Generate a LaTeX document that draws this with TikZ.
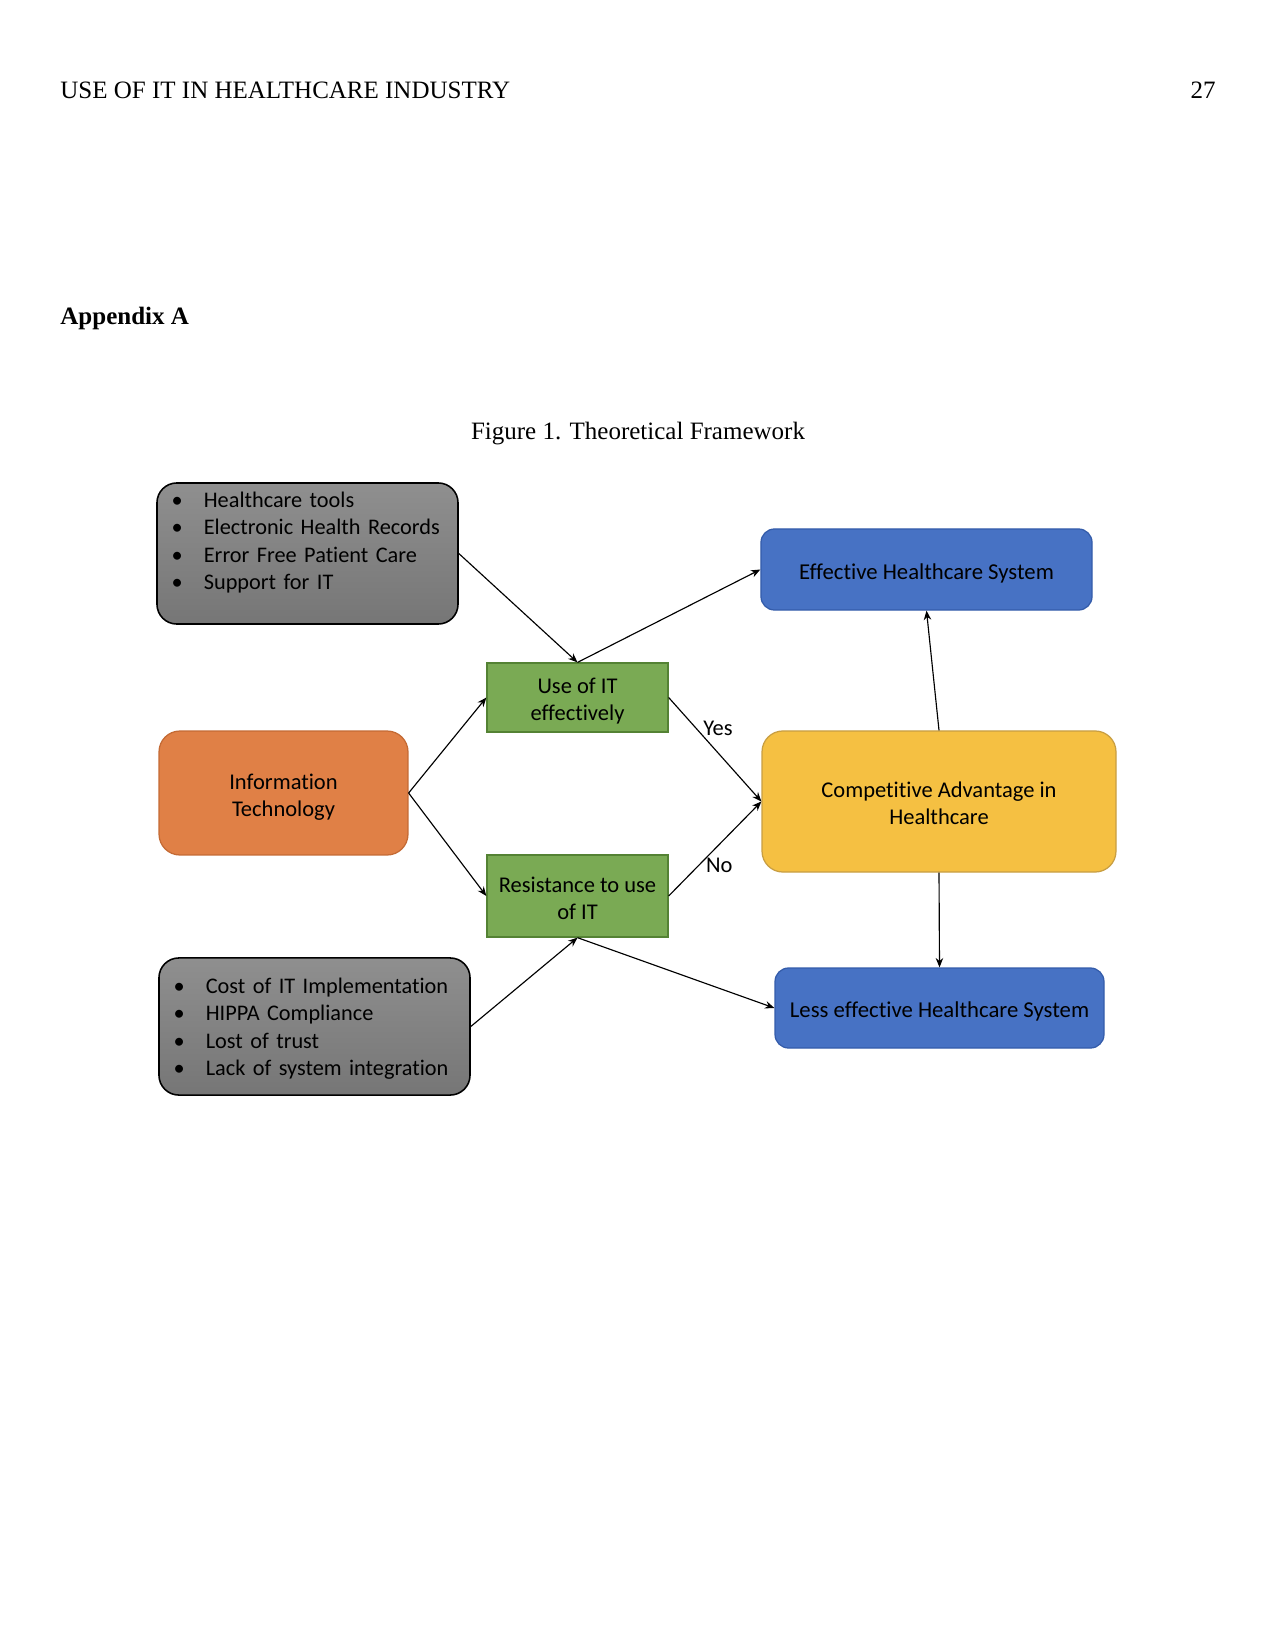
\documentclass[tikz,border=0pt]{standalone}
\usepackage{fontspec}
\setmainfont{Liberation Serif}
\newfontfamily\boxfont[Ligatures=NoCommon]{Carlito}
\usetikzlibrary{arrows.meta, positioning, calc}
\definecolor{graytop}{RGB}{143,143,143}
\definecolor{graymid}{RGB}{166,166,166}
\definecolor{graybot}{RGB}{118,118,118}
\definecolor{itorange}{RGB}{224,128,70}
\definecolor{itorangedk}{RGB}{196,106,52}
\definecolor{usegreen}{RGB}{122,170,84}
\definecolor{usegreendk}{RGB}{84,130,52}
\definecolor{sysblue}{RGB}{71,114,196}
\definecolor{sysbluedk}{RGB}{52,92,170}
\definecolor{advyellow}{RGB}{245,192,66}
\definecolor{advyellowdk}{RGB}{200,158,66}
\tikzset{
  listbox/.style={rectangle, draw=black, line width=0.75pt, rounded corners=9.5pt,
    top color=graytop, middle color=graymid, bottom color=graybot,
    align=left, inner xsep=7pt, inner ysep=0pt, anchor=center,
    font=\boxfont\fontsize{10.7}{13.2}\selectfont},
  orangebox/.style={rectangle, draw=itorangedk, fill=itorange, line width=0.6pt,
    rounded corners=10pt, align=center,
    font=\boxfont\fontsize{10.8}{13}\selectfont},
  greenbox/.style={rectangle, draw=usegreendk, fill=usegreen, line width=0.6pt,
    align=center, font=\boxfont\fontsize{10.8}{13}\selectfont},
  bluebox/.style={rectangle, draw=sysbluedk, fill=sysblue, line width=0.6pt,
    rounded corners=6.5pt, align=center,
    font=\boxfont\fontsize{10.9}{13}\selectfont},
  yellowbox/.style={rectangle, draw=advyellowdk, fill=advyellow, line width=0.6pt,
    rounded corners=10pt, align=center,
    font=\boxfont\fontsize{10.8}{13}\selectfont},
  arrow/.style={-{Stealth[length=4.5pt, width=3.6pt]}, line width=0.55pt, color=black},
  edgelabel/.style={font=\boxfont\fontsize{10.8}{13}\selectfont, inner sep=2pt}
}
\newcommand{\bulletitem}[1]{\makebox[15.5pt][l]{\textbullet}#1}
% text set a little low in its box, as the original does
\newcommand{\lowered}[2][2pt]{\raisebox{-#1}[\height][\depth]{\begin{tabular}{@{}c@{}}#2\end{tabular}}}
\newcommand{\loweredlist}[2][1pt]{\raisebox{-#1}[\height][\depth]{\begin{tabular}{@{}l@{}}#2\end{tabular}}}

\begin{document}
\begin{tikzpicture}[x=0.48pt, y=-0.48pt, >=Stealth]
  % page frame (1275 x 1650 px)
  \useasboundingbox (0,0) rectangle (1275,1650);

  % Running head, heading and caption
  \node[anchor=base west, inner sep=0pt, font=\fontsize{12}{14}\selectfont] (runhead) at (60,98.5) {USE OF IT IN HEALTHCARE INDUSTRY};
  \node[anchor=base east, inner sep=0pt, font=\fontsize{12}{14}\selectfont] (pagenum) at (1216,98.5) {27};
  \node[anchor=base west, inner sep=0pt, font=\fontsize{12}{14}\selectfont\bfseries] (appx) at (60,325) {Appendix A};
  \node[anchor=base, inner sep=0pt, font=\fontsize{12}{14}\selectfont] (caption) at (638,439) {Figure 1. Theoretical Framework};

  % Left column
  \node[listbox, minimum width=144.5pt, minimum height=67.7pt, text width=130.5pt] (tools) at (307.5,553.5)
    {\loweredlist[1.6pt]{\bulletitem{Healthcare tools}\\ \bulletitem{Electronic Health Records}\\ \bulletitem{Error Free Patient Care}\\ \bulletitem{Support for IT}\\ \mbox{}}};
  \node[orangebox, minimum width=119.5pt, minimum height=59.5pt] (itech) at (283.5,793) {\lowered{Information\\ Technology}};
  \node[listbox, minimum width=149.3pt, minimum height=65.8pt, text width=135.3pt] (barriers) at (314.5,1026.5)
    {\loweredlist[1.2pt]{\bulletitem{Cost of IT Implementation}\\ \bulletitem{HIPPA Compliance}\\ \bulletitem{Lost of trust}\\ \bulletitem{Lack of system integration}}};

  % Middle column
  \node[greenbox, minimum width=86.9pt, minimum height=33.1pt] (useit) at (577.5,697.5) {\lowered{Use of IT\\ effectively}};
  \node[greenbox, minimum width=86.9pt, minimum height=39.4pt] (resist) at (577.5,896) {\lowered{Resistance to use\\ of IT}};

  % Right column
  \node[bluebox, minimum width=158.9pt, minimum height=38.9pt] (effective) at (926.5,569.5) {\lowered{Effective Healthcare System}};
  \node[yellowbox, minimum width=169.9pt, minimum height=67.7pt] (compadv) at (939,801.5) {\lowered{Competitive Advantage in\\ Healthcare}};
  \node[bluebox, minimum width=157.9pt, minimum height=38.4pt] (lesseff) at (939.5,1008) {\lowered{Less effective Healthcare System}};

  % Connectors
  \draw[arrow] (tools.east) -- (useit.north);
  \draw[arrow] (useit.north) -- (effective.west);
  \draw[arrow] (itech.east) -- (useit.west);
  \draw[arrow] (itech.east) -- (resist.west);
  \draw[arrow] (useit.east) -- node[edgelabel, pos=0.3, anchor=west, xshift=1pt] (yeslbl) {Yes} (compadv.west);
  \draw[arrow] (resist.east) -- node[edgelabel, pos=0.32, anchor=west, xshift=1.5pt] (nolbl) {No} (compadv.west);
  \draw[arrow] (compadv.north) -- (effective.south);
  \draw[arrow] (compadv.south) -- (lesseff.north);
  \draw[arrow] (barriers.east) -- (resist.south);
  \draw[arrow] (resist.south) -- (lesseff.west);
\end{tikzpicture}
\end{document}
